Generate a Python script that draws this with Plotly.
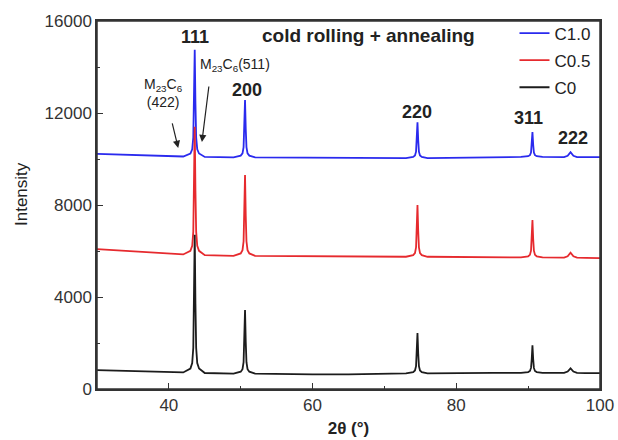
import plotly.graph_objects as go

# 2-theta sampling positions (degrees)
two_theta = [30, 35, 40,
             42.0, 43.0, 43.25, 43.4, 43.5, 43.6, 43.7, 43.8, 43.95, 44.2, 45.0,
             47.0,
             49.0, 50.0, 50.25, 50.4, 50.5, 50.6, 50.7, 50.8, 50.95, 51.2, 52.0,
             56.0, 60.0, 65.0, 70.0,
             73.0, 74.0, 74.25, 74.4, 74.5, 74.6, 74.7, 74.8, 74.95, 75.2, 76.0,
             80.0, 85.0,
             89.0, 90.0, 90.25, 90.4, 90.5, 90.6, 90.7, 90.8, 90.95, 91.2, 92.0,
             95.0, 95.5, 95.9, 96.3, 96.8, 98.0, 100.0]

c10 = [10220, 10170, 10120,
       10110, 10240, 10425, 10937, 12425, 14750, 12425, 10937, 10425, 10240, 10090,
       10080,
       10070, 10145, 10244, 10518, 11315, 12560, 11315, 10518, 10244, 10145, 10070,
       10060, 10050, 10040, 10040,
       10040, 10087, 10149, 10321, 10820, 11600, 10820, 10321, 10149, 10087, 10040,
       10050, 10060,
       10090, 10122, 10166, 10284, 10630, 11170, 10630, 10284, 10166, 10122, 10090,
       10085, 10140, 10300, 10140, 10085, 10080, 10080]

c05 = [6080, 5980, 5880,
       5850, 6007, 6229, 6841, 8620, 11400, 8620, 6841, 6229, 6007, 5820,
       5800,
       5790, 5895, 6036, 6422, 7545, 9300, 7545, 6422, 6036, 5895, 5790,
       5780, 5770, 5760, 5750,
       5750, 5818, 5908, 6155, 6875, 8000, 6875, 6155, 5908, 5818, 5750,
       5740, 5730,
       5720, 5769, 5834, 6013, 6535, 7350, 6535, 6013, 5834, 5769, 5720,
       5710, 5770, 5930, 5770, 5710, 5700, 5690]

c0 = [820, 780, 740,
      720, 890, 1130, 1790, 3710, 6710, 3710, 1790, 1130, 890, 695,
      690,
      670, 753, 863, 1167, 2050, 3430, 2050, 1167, 863, 753, 670,
      650, 640, 640, 660,
      680, 733, 803, 995, 1555, 2430, 1555, 995, 803, 733, 680,
      700, 700,
      700, 736, 784, 916, 1300, 1900, 1300, 916, 784, 736, 700,
      700, 760, 900, 760, 700, 690, 690]

series_names = ["C1.0", "C0.5", "C0"]
series_colors = ["#2a2aee", "#e62a2e", "#1c1c1c"]

peak_labels = ["111", "200", "220", "311", "222"]
peak_label_x = [43.6, 50.9, 74.6, 90.1, 96.2]
peak_label_y = [15300, 13000, 12040, 11780, 10910]

x_ticks = [40, 60, 80, 100]
y_ticks = [0, 4000, 8000, 12000, 16000]
y_tick_text = ["0", "4000", "8000", "12000", "16000"]

fig = go.Figure()
for name, ys, col in zip(series_names, [c10, c05, c0], series_colors):
    fig.add_trace(go.Scatter(x=two_theta, y=ys, mode="lines", name=name,
                             legendgroup=name,
                             line=dict(color=col, width=1.8)))

FONT = "Liberation Sans, Arial, sans-serif"

for t, px, py in zip(peak_labels, peak_label_x, peak_label_y):
    fig.add_annotation(x=px, y=py, text="<b>%s</b>" % t, showarrow=False,
                       font=dict(size=18, color="#222", family=FONT))

fig.add_annotation(x=67.8, y=15390, text="<b>cold rolling + annealing</b>",
                   showarrow=False, font=dict(size=19, color="#222", family=FONT))

fig.add_annotation(x=39.2, y=12870, text="M<sub>23</sub>C<sub>6</sub><br>(422)",
                   showarrow=False, font=dict(size=14, color="#222", family=FONT))
fig.add_annotation(x=44.1, y=14090, xanchor="left",
                   text="M<sub>23</sub>C<sub>6</sub>(511)",
                   showarrow=False, font=dict(size=14, color="#222", family=FONT))

fig.add_annotation(x=41.3, y=10480, ax=-8, ay=-33, text=" ", showarrow=True,
                   arrowhead=2, arrowsize=1.2, arrowwidth=1.2, arrowcolor="#222")
fig.add_annotation(x=44.6, y=10740, ax=8, ay=-64, text=" ", showarrow=True,
                   arrowhead=2, arrowsize=1.2, arrowwidth=1.2, arrowcolor="#222")

fig.add_annotation(xref="paper", yref="paper", x=-0.149, y=0.53, xanchor="center",
                   yanchor="middle", text="Intensity", textangle=-90, showarrow=False,
                   font=dict(size=17, color="#222", family=FONT))

# plot frame
fig.add_shape(type="rect", xref="paper", yref="paper", x0=0, y0=0, x1=1, y1=1,
              line=dict(color="#333", width=1.5), layer="above")

axis_common = dict(showline=True, linecolor="#333", linewidth=1.5, mirror=True,
                   ticks="inside", ticklen=6, tickwidth=1.2, tickcolor="#333",
                   showgrid=False, zeroline=False, automargin=False,
                   tickfont=dict(size=17, color="#333", family=FONT))

fig.update_xaxes(range=[30, 100], tickvals=x_ticks,
                 minor=dict(dtick=10, ticks="inside", ticklen=3, tickcolor="#333"),
                 title=dict(text="<b>2θ (°)</b>", font=dict(size=17, color="#222", family=FONT),
                            standoff=8),
                 **axis_common)
fig.update_yaxes(range=[0, 16000], tickvals=y_ticks, ticktext=y_tick_text,
                 minor=dict(dtick=2000, ticks="inside", ticklen=3, tickcolor="#333"),
                 **axis_common)

fig.update_layout(width=618, height=440,
                  margin=dict(l=97, r=18, t=21, b=51),
                  paper_bgcolor="white", plot_bgcolor="white",
                  font=dict(family=FONT),
                  showlegend=True,
                  legend=dict(x=0.83, y=1.015, xanchor="left", yanchor="top",
                              traceorder="grouped", tracegroupgap=2,
                              bgcolor="rgba(0,0,0,0)",
                              font=dict(size=17, color="#222", family=FONT)))

fig.write_html("out.html", config={"displayModeBar": False},
               post_script="document.body.style.margin='0px';"
                           "document.body.style.overflow='hidden';")
